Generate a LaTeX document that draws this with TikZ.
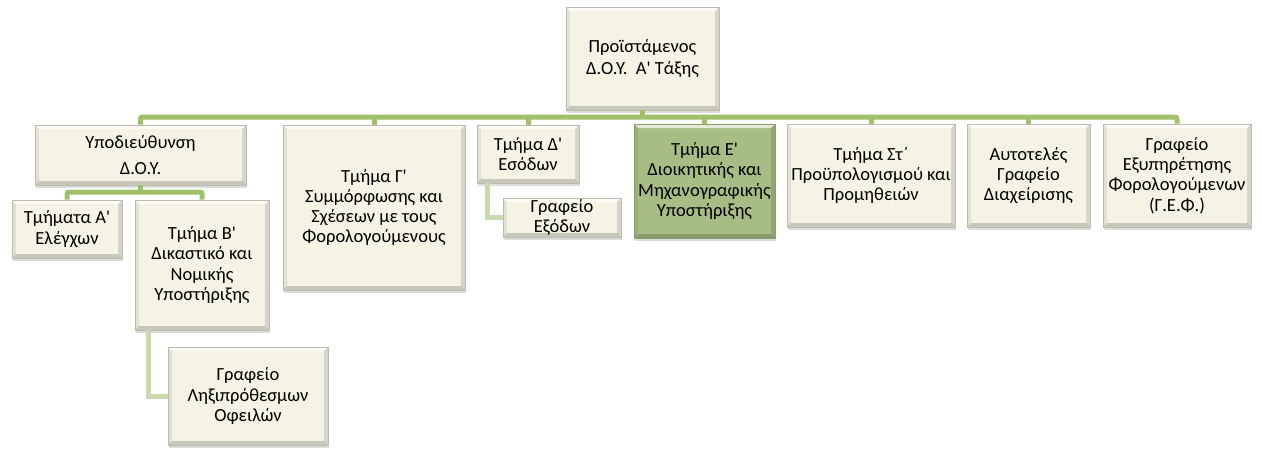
\documentclass[tikz,border=0pt]{standalone}
\usepackage{fontspec}
\newfontfamily\orgfont{Carlito}
\usepackage{tikz}
\usetikzlibrary{positioning}
\usetikzlibrary{shadows}
\definecolor{boxcream}{HTML}{F5F3E5}
\definecolor{boxedge}{HTML}{BDBBAB}
\definecolor{boxgreen}{HTML}{A8BC85}
\definecolor{greenedge}{HTML}{8A9F68}
\definecolor{busgreen}{HTML}{A0C06A}
\definecolor{subgreen}{HTML}{C9DBAE}
\begin{document}
\begin{tikzpicture}[x=1pt,y=-1pt,
	bevel/.style={path picture={
		\coordinate (bsw) at (path picture bounding box.south west);
		\coordinate (bse) at (path picture bounding box.south east);
		\coordinate (bnw) at (path picture bounding box.north west);
		\coordinate (bne) at (path picture bounding box.north east);
		\fill[white, opacity=0.7] (bnw) -- (bne) -- ([shift={(-4pt,-4pt)}]bne) -- ([shift={(4pt,-4pt)}]bnw) -- cycle;
		\fill[black, opacity=0.07] (bnw) -- (bsw) -- ([shift={(4pt,4pt)}]bsw) -- ([shift={(4pt,-4pt)}]bnw) -- cycle;
		\fill[black, opacity=0.12] (bne) -- (bse) -- ([shift={(-4pt,4pt)}]bse) -- ([shift={(-4pt,-4pt)}]bne) -- cycle;
		\fill[black, opacity=0.18] (bsw) -- (bse) -- ([shift={(-4pt,4pt)}]bse) -- ([shift={(4pt,4pt)}]bsw) -- cycle;}},
	unit/.style={draw=boxedge, line width=0.6pt, fill=boxcream, bevel, align=center, inner sep=0pt,
		font=\orgfont\fontsize{18.5}{20.3}\selectfont, text=black,
		drop shadow={shadow xshift=1pt, shadow yshift=-3pt, opacity=0.28}},
	bus/.style={busgreen, line width=5pt, rounded corners=2pt},
	link/.style={subgreen, line width=5pt}]
	\useasboundingbox (0,0) rectangle (1262,448);
	\coordinate (busline) at (0,117);
	\coordinate (subline) at (0,192);
	
	\node at (642.5,58.5) (chief) [unit, minimum width=153pt, minimum height=103pt] {Προϊστάμενος\\[2pt]Δ.Ο.Υ.\ \ Α' Τάξης};
	\node at (140.5,155) (subdir) [unit, minimum width=211pt, minimum height=60pt] {Υποδιεύθυνση\\[6.5pt]Δ.Ο.Υ.};
	\node at (67,229) (auditA) [unit, minimum width=110pt, minimum height=58pt] {Τμήματα Α'\\Ελέγχων};
	\node at (202,265) (deptB) [unit, minimum width=134pt, minimum height=130pt] {Τμήμα Β'\\Δικαστικό και\\Νομικής\\Υποστήριξης};
	\node at (248,396) (overdue) [unit, minimum width=160pt, minimum height=98pt] {Γραφείο\\Ληξιπρόθεσμων\\Οφειλών};
	\node at (374,207.5) (deptC) [unit, minimum width=182pt, minimum height=165pt] {Τμήμα Γ'\\Συμμόρφωσης και\\Σχέσεων με τους\\Φορολογούμενους};
	\node at (528,154) (deptD) [unit, minimum width=102pt, minimum height=58pt] {Τμήμα Δ'\\Εσόδων};
	\node at (562,217.5) (expoff) [unit, minimum width=118pt, minimum height=39pt] {Γραφείο\\Εξόδων};
	\node at (704.5,181) (deptE) [unit, fill=boxgreen, draw=greenedge, minimum width=141pt, minimum height=114pt] {Τμήμα Ε'\\Διοικητικής και\\Μηχανογραφικής\\Υποστήριξης};
	\node at (871,175.5) (deptF) [unit, minimum width=168pt, minimum height=103pt] {Τμήμα Στ΄\\Προϋπολογισμού και\\Προμηθειών};
	\node at (1028.5,175.5) (selfoff) [unit, minimum width=123pt, minimum height=103pt] {Αυτοτελές\\Γραφείο\\Διαχείρισης};
	\node at (1177,175.5) (gef) [unit, minimum width=148pt, minimum height=103pt] {Γραφείο\\Εξυπηρέτησης\\Φορολογούμενων\\(Γ.Ε.Φ.)};
	
	\draw[bus] (chief.south) -- (chief.south |- busline);
	\draw[bus] (subdir.north) |- (chief.south |- busline) -| (gef.north);
	\foreach \n in {deptC,deptD,deptE,deptF,selfoff}
		\draw[bus] (\n.north) -- (\n.north |- busline);
	\draw[bus] (subdir.south) -- (subdir.south |- subline);
	\draw[bus] (auditA.north) |- (subdir.south |- subline) -| (deptB.north);
	\draw[link] ([xshift=11pt]deptD.south west) |- (expoff.west);
	\draw[link] ([xshift=14pt]deptB.south west) |- (overdue.west);
\end{tikzpicture}
\end{document}
